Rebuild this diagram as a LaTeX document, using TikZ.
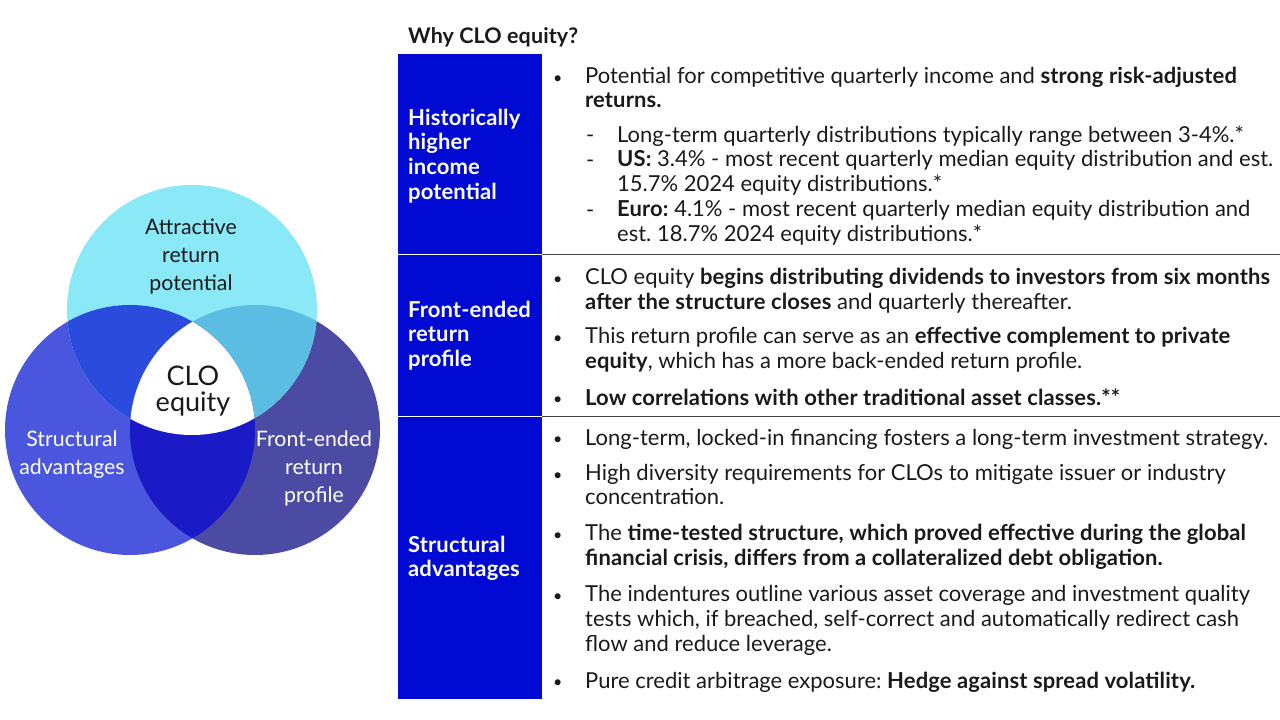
\documentclass[tikz,border=0pt]{standalone}
\usepackage{fontspec}
\setmainfont{Lato}[BoldFeatures={LetterSpace=0.5}]
\usepackage{xcolor}
\usetikzlibrary{positioning}
\frenchspacing

\definecolor{barblue}{HTML}{000AD2}
\definecolor{vtop}{HTML}{8BE8F6}
\definecolor{vleft}{HTML}{4B56DF}
\definecolor{vright}{HTML}{4B4BA3}
\definecolor{vtl}{HTML}{2B4BDD}
\definecolor{vtr}{HTML}{5CBDE2}
\definecolor{vbot}{HTML}{1A1AC6}
\definecolor{ink}{HTML}{1A1A1A}

\newcommand{\bodyfont}{\fontsize{22}{24.8}\selectfont}
\newcommand{\vennfont}{\fontsize{21.3}{28}\selectfont}
\newcommand{\corefont}{\fontsize{27}{26.5}\selectfont}
\newcommand{\dotmark}{\raisebox{1pt}{\fontsize{16}{16}\selectfont\textbullet}}

\begin{document}
\begin{tikzpicture}[
    x=1pt, y=-1pt,
    itm/.style={
        anchor=north west,
        inner sep=0pt,
        align=left,
        text=ink,
        font=\bodyfont,
        yshift=17.36pt,
        execute at begin node=\strut
    },
    bul/.style={
        anchor=north west,
        inner sep=0pt,
        text=ink,
        font=\bodyfont
    },
    lbl/.style={itm, text=white, font=\bodyfont\bfseries},
    vbase/.style={
        anchor=north,
        inner sep=0pt,
        align=center,
        execute at begin node=\strut
    },
    vtxt/.style={vbase, font=\vennfont, yshift=19.6pt},
    vcore/.style={vbase, font=\corefont, text=ink, yshift=18.55pt},
    sep/.style={draw=black!75, line width=1pt}
]
\useasboundingbox (0,0) rectangle (1280,720);

% venn
\coordinate (ctop) at (192,310);
\coordinate (cleft) at (130,430);
\coordinate (cright) at (255,430);
\fill[vleft] (cleft) circle (125);
\fill[vright] (cright) circle (125);
\fill[vtop] (ctop) circle (125);
\begin{scope}
    \clip (ctop) circle (125);
    \fill[vtl] (cleft) circle (125);
    \fill[vtr] (cright) circle (125);
\end{scope}
\begin{scope}
    \clip (cleft) circle (125);
    \fill[vbot] (cright) circle (125);
\end{scope}
\begin{scope}
    \clip (ctop) circle (125);
    \clip (cleft) circle (125);
    \fill[white] (cright) circle (125);
\end{scope}

\node[vtxt, text=ink] (attr) at (191,238) {Attractive\\return\\potential};
\node[vcore] (core) at (193,384) {CLO\\equity};
\node[vtxt, text=white] (strc) at (72,450) {Structural\\advantages};
\node[vtxt, text=white] (frnt) at (314,450) {Front-ended\\return\\profile};

% table
\node[anchor=base west, inner sep=0pt, text=ink,
      font=\fontsize{21.5}{22}\selectfont\bfseries] (title) at (408,43) {Why CLO equity?};

\fill[barblue] (398,54) rectangle (542,253.5);
\fill[barblue] (398,255) rectangle (542,415.5);
\fill[barblue] (398,417) rectangle (542,699);
\draw[sep] (542,254) -- (1280,254);
\draw[sep] (542,416) -- (1280,416);

\node[lbl] (hist) at (408,126) {Historically\\higher\\income\\potential};
\node[lbl] (front) at (408,318) {Front-ended\\return\\profile};
\node[lbl] (struct) at (408,553) {Structural\\advantages};

% row 1
\node[itm] (h1) at (585,84) {Potential for competitive quarterly income and \textbf{strong risk-adjusted}\\\textbf{returns.}};
\node[itm] (h1a) at (617,142.5) {Long-term quarterly distributions typically range between 3-4\%.*};
\node[itm] (h1b) at (617,167.5) {\textbf{US:} 3.4\% - most recent quarterly median equity distribution and est.\\15.7\% 2024 equity distributions.*};
\node[itm] (h1c) at (617,217.5) {\textbf{Euro:} 4.1\% - most recent quarterly median equity distribution and\\est. 18.7\% 2024 equity distributions.*};

% row 2
\node[itm] (f1) at (585,285) {CLO equity \textbf{begins distributing dividends to investors from six months}\\\textbf{after the structure closes} and quarterly thereafter.};
\node[itm] (f2) at (585,344) {This return profile can serve as an \textbf{effective complement to private}\\\textbf{equity}, which has a more back-ended return profile.};
\node[itm] (f3) at (585,405) {\textbf{Low correlations with other traditional asset classes.**}};

% row 3
\node[itm] (s1) at (585,445) {Long-term, locked-in financing fosters a long-term investment strategy.};
\node[itm] (s2) at (585,481) {High diversity requirements for CLOs to mitigate issuer or industry\\concentration.};
\node[itm] (s3) at (585,541) {The \textbf{time-tested structure, which proved effective during the global}\\\textbf{financial crisis, differs from a collateralized debt obligation.}};
\node[itm] (s4) at (585,602.5) {The indentures outline various asset coverage and investment quality\\tests which, if breached, self-correct and automatically redirect cash\\flow and reduce leverage.};
\node[itm] (s5) at (585,688) {Pure credit arbitrage exposure: \textbf{Hedge against spread volatility.}};

% bullets and dashes
\foreach \n in {h1,f1,f2,f3,s1,s2,s3,s4,s5}
    \node[bul] (b\n) at ([xshift=-32pt]\n.north west) {\strut\dotmark};
\foreach \n in {h1a,h1b,h1c}
    \node[bul] (d\n) at ([xshift=-31pt]\n.north west) {\strut-};

\end{tikzpicture}
\end{document}
